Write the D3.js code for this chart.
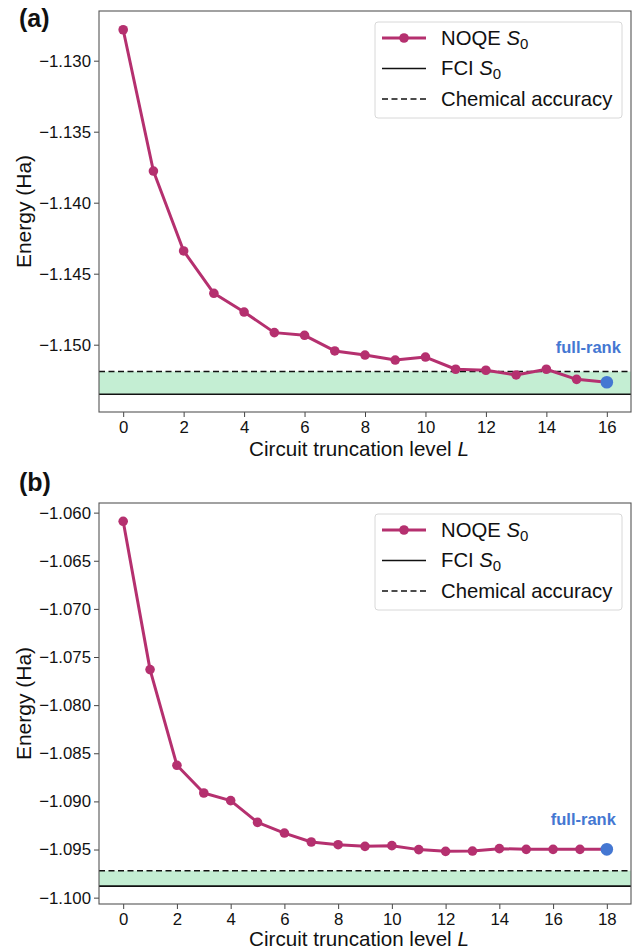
<!DOCTYPE html>
<html><head><meta charset="utf-8">
<script src="https://cdn.jsdelivr.net/npm/d3@7"></script>
<style>
html,body{margin:0;padding:0;background:#fff;}
svg text{font-family:"Liberation Sans",Arial,Helvetica,sans-serif;fill:#111;}
</style></head>
<body>
<svg id="chart" width="641" height="952"></svg>
<script>
// ---- data ----
const levelsA = d3.range(0, 17);
const energyA = [-1.12782, -1.13777, -1.14340, -1.14638, -1.14770, -1.14915, -1.14934, -1.15044,
                 -1.15073, -1.15108, -1.15087, -1.15173, -1.15180, -1.15213, -1.15173, -1.15244, -1.15265];
const fciA = -1.15349;
const chemA = -1.15189;
const yTicksA = [-1.130, -1.135, -1.140, -1.145, -1.150];
const xTicksA = [0, 2, 4, 6, 8, 10, 12, 14, 16];

const levelsB = d3.range(0, 19);
const energyB = [-1.06090, -1.07631, -1.08625, -1.08913, -1.08992, -1.09218, -1.09329, -1.09422,
                 -1.09450, -1.09467, -1.09460, -1.09501, -1.09519, -1.09516, -1.09491, -1.09498,
                 -1.09498, -1.09498, -1.09498];
const fciB = -1.09880;
const chemB = -1.09720;
const yTicksB = [-1.060, -1.065, -1.070, -1.075, -1.080, -1.085, -1.090, -1.095, -1.100];
const xTicksB = [0, 2, 4, 6, 8, 10, 12, 14, 16, 18];

const legendLabels = ["NOQE", "FCI", "Chemical accuracy"];

// ---- style ----
const LINE = "#b5306f", BLUE = "#4477d2", GREEN = "#c4eed3";
const svg = d3.select("#chart");

function panel(cfg) {
  const {left, right, top, bottom, xDom, yDom, levels, energy, fci, chem, yTicks, xTicks, tag, frDx, frBase, tagBase, xlOff} = cfg;
  const x = d3.scaleLinear().domain(xDom).range([left, right]);
  const y = d3.scaleLinear().domain(yDom).range([bottom, top]);
  const g = svg.append("g");
  const clipId = "clip" + tag;
  g.append("clipPath").attr("id", clipId).append("rect")
    .attr("x", left).attr("y", top).attr("width", right - left).attr("height", bottom - top);
  const body = g.append("g").attr("clip-path", `url(#${clipId})`);

  body.append("rect").attr("x", left).attr("width", right - left)
    .attr("y", y(chem)).attr("height", y(fci) - y(chem)).attr("fill", GREEN);
  body.append("line").attr("x1", left).attr("x2", right).attr("y1", y(fci)).attr("y2", y(fci))
    .attr("stroke", "#111").attr("stroke-width", 1.6);
  body.append("line").attr("x1", left).attr("x2", right).attr("y1", y(chem)).attr("y2", y(chem))
    .attr("stroke", "#111").attr("stroke-width", 1.6).attr("stroke-dasharray", "6,3.5");

  const pts = levels.map((l, i) => [l, energy[i]]);
  body.append("path").datum(pts)
    .attr("d", d3.line().x(d => x(d[0])).y(d => y(d[1])))
    .attr("fill", "none").attr("stroke", LINE).attr("stroke-width", 3).attr("stroke-linejoin", "round");
  body.selectAll("circle.m").data(pts.slice(0, -1)).join("circle").attr("class", "m")
    .attr("cx", d => x(d[0])).attr("cy", d => y(d[1])).attr("r", 4.8).attr("fill", LINE);
  const last = pts[pts.length - 1];
  body.append("circle").attr("cx", x(last[0])).attr("cy", y(last[1])).attr("r", 6.3).attr("fill", BLUE);

  g.append("text").attr("x", x(last[0]) + frDx).attr("y", frBase).attr("text-anchor", "end")
    .style("font-size", "16.5px").style("font-weight", "bold").style("fill", BLUE).text("full-rank");

  // axes
  const xa = g.append("g").attr("transform", `translate(0,${bottom})`)
    .call(d3.axisBottom(x).tickValues(xTicks).tickSize(5).tickPadding(4).tickFormat(d3.format("d")));
  const ya = g.append("g").attr("transform", `translate(${left},0)`)
    .call(d3.axisLeft(y).tickValues(yTicks).tickSize(5).tickPadding(3).tickFormat(d3.format(".3f")));
  [xa, ya].forEach(a => {
    a.select(".domain").remove();
    a.selectAll("line").attr("stroke", "#444").attr("stroke-width", 1);
    a.selectAll("text").style("font-size", "16.8px").style("fill", "#111")
      .style("font-family", '"Liberation Sans",Arial,sans-serif');
  });
  g.append("rect").attr("x", left).attr("y", top).attr("width", right - left).attr("height", bottom - top)
    .attr("fill", "none").attr("stroke", "#555").attr("stroke-width", 1.1);

  // axis labels
  const xl = g.append("text").attr("x", (left + right) / 2 - 6).attr("y", bottom + xlOff)
    .attr("text-anchor", "middle").style("font-size", "20.6px");
  xl.append("tspan").text("Circuit truncation level  ");
  xl.append("tspan").style("font-style", "italic").text("L");
  g.append("text").attr("transform", `translate(31,${(top + bottom) / 2}) rotate(-90)`)
    .attr("text-anchor", "middle").style("font-size", "21px").text("Energy (Ha)");

  g.append("text").attr("x", 19).attr("y", tagBase).style("font-size", "25px").style("font-weight", "bold")
    .text(`(${tag})`);

  // legend
  const lx = 375, ly = top + 11, lw = 247, lh = 96;
  const lg = g.append("g");
  lg.append("rect").attr("x", lx).attr("y", ly).attr("width", lw).attr("height", lh).attr("rx", 3)
    .attr("fill", "#fff").attr("fill-opacity", 0.85).attr("stroke", "#d8d8d8").attr("stroke-width", 1);
  const rows = [22.5, 53, 83.5];
  rows.forEach((dy, i) => {
    const cy = ly + dy - 6.5;
    const ln = lg.append("line").attr("x1", lx + 7).attr("x2", lx + 51).attr("y1", cy).attr("y2", cy);
    if (i === 0) {
      ln.attr("stroke", LINE).attr("stroke-width", 3);
      lg.append("circle").attr("cx", lx + 29).attr("cy", cy).attr("r", 4.8).attr("fill", LINE);
    } else {
      ln.attr("stroke", "#111").attr("stroke-width", 1.6);
      if (i === 2) ln.attr("stroke-dasharray", "6,3.5");
    }
    const t = lg.append("text").attr("x", lx + 66).attr("y", ly + dy).style("font-size", "20.3px");
    t.append("tspan").text(legendLabels[i]);
    if (i < 2) {
      t.append("tspan").text(" ");
      t.append("tspan").style("font-style", "italic").text("S");
      t.append("tspan").attr("dy", 4).style("font-size", "15px").text("0");
    }
  });
}

panel({left: 99, right: 631, top: 11, bottom: 412, xDom: [-0.8, 16.8], yDom: [-1.15474, -1.1265],
  levels: levelsA, energy: energyA, fci: fciA, chem: chemA, yTicks: yTicksA, xTicks: xTicksA,
  tag: "a", frDx: 14, frBase: 352.5, tagBase: 27, xlOff: 44});
panel({left: 99, right: 631, top: 503, bottom: 904, xDom: [-0.9, 18.9], yDom: [-1.10066, -1.0590],
  levels: levelsB, energy: energyB, fci: fciB, chem: chemB, yTicks: yTicksB, xTicks: xTicksB,
  tag: "b", frDx: 9, frBase: 825, tagBase: 491, xlOff: 42});
</script>
</body></html>
